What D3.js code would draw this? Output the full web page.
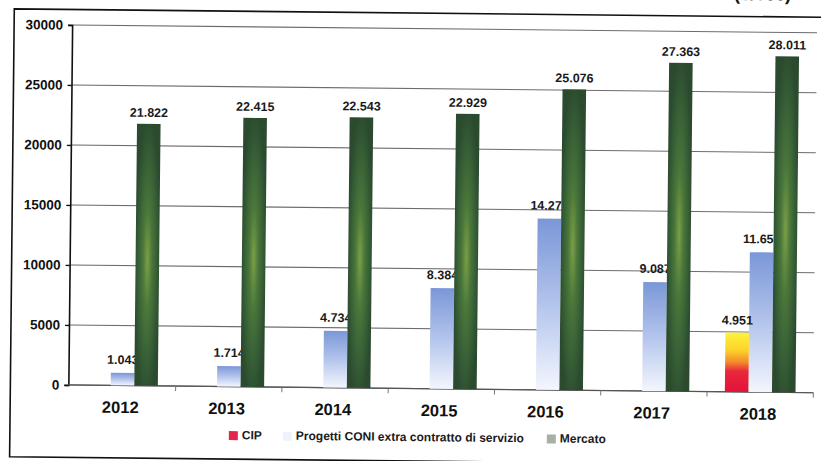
<!DOCTYPE html>
<html>
<head>
<meta charset="utf-8">
<script src="https://cdn.jsdelivr.net/npm/d3@7"></script>
<style>
  html, body { margin: 0; padding: 0; background: #fff; }
  svg { display: block; }
  text { font-family: "Liberation Sans", Arial, sans-serif; }
</style>
</head>
<body>
<svg id="chart" width="821" height="461"></svg>
<script>
// ---- data ----
const years = ["2012", "2013", "2014", "2015", "2016", "2017", "2018"];
const seriesNames = ["CIP", "Progetti CONI extra contratto di servizio", "Mercato"];
const cipValues = [null, null, null, null, null, null, 4951];
const progettiValues = [1043, 1714, 4734, 8384, 14271, 9087, 11659];
const mercatoValues = [21822, 22415, 22543, 22929, 25076, 27363, 28011];
const yTicks = [0, 5000, 10000, 15000, 20000, 25000, 30000];
const unitLabel = "(€/000)";

// ---- setup ----
const svg = d3.select("#chart");
const defs = svg.append("defs");

// gradients
const gGreen = defs.append("radialGradient").attr("id", "gGreen")
  .attr("cx", 0.5).attr("cy", 0.52).attr("r", 0.55);
gGreen.append("stop").attr("offset", 0).attr("stop-color", "#7c9f46");
gGreen.append("stop").attr("offset", 0.35).attr("stop-color", "#4a773a");
gGreen.append("stop").attr("offset", 0.8).attr("stop-color", "#325834");
gGreen.append("stop").attr("offset", 1).attr("stop-color", "#2b4a2e");

const gBlue = defs.append("linearGradient").attr("id", "gBlue")
  .attr("x1", 0).attr("y1", 0).attr("x2", 0).attr("y2", 1);
gBlue.append("stop").attr("offset", 0).attr("stop-color", "#7b97d8");
gBlue.append("stop").attr("offset", 0.5).attr("stop-color", "#b3c4ec");
gBlue.append("stop").attr("offset", 1).attr("stop-color", "#f3f6fd");

const gCip = defs.append("linearGradient").attr("id", "gCip")
  .attr("x1", 0).attr("y1", 0).attr("x2", 0).attr("y2", 1);
gCip.append("stop").attr("offset", 0).attr("stop-color", "#fff23c");
gCip.append("stop").attr("offset", 0.3).attr("stop-color", "#fcd22a");
gCip.append("stop").attr("offset", 0.5).attr("stop-color", "#f38a2a");
gCip.append("stop").attr("offset", 0.65).attr("stop-color", "#e8283c");
gCip.append("stop").attr("offset", 1).attr("stop-color", "#e3123a");

// whole scanned page is slightly rotated
const root = svg.append("g").attr("transform", "rotate(0.6, 410, 230)");

// outer frame (right side off-page)
root.append("path")
  .attr("d", `M840,13 H12 V461 H840`)
  .attr("fill", "none").attr("stroke", "#111").attr("stroke-width", 1.6);

// partially visible unit label at the top (cut by the page edge as in the scan)
root.append("text").attr("x", 760).attr("y", -3.5)
  .attr("text-anchor", "middle").attr("font-weight", "bold").attr("font-size", 18)
  .attr("fill", "#111").text(unitLabel);

const x0 = d3.scaleBand().domain(years).range([71, 815]).paddingInner(0.335).paddingOuter(0.1675);
const x1 = d3.scaleBand().domain(seriesNames).range([0, x0.bandwidth()]);
const y = d3.scaleLinear().domain([0, 30000]).range([388.5, 28.5]);

const itFmt = d3.formatLocale({ decimal: ",", thousands: ".", grouping: [3], currency: ["€", ""] }).format(",d");

// gridlines
root.append("g").selectAll("line").data(yTicks).join("line")
  .attr("x1", 70).attr("x2", 815)
  .attr("y1", d => y(d)).attr("y2", d => y(d))
  .attr("stroke", "#6e6a72").attr("stroke-width", 1.1);

// y axis
const yAxis = root.append("g").attr("transform", "translate(70,0)")
  .call(d3.axisLeft(y).tickValues(yTicks).tickFormat(d3.format("d")).tickSize(4).tickPadding(5));
yAxis.select(".domain").attr("stroke", "#111").attr("stroke-width", 1.6);
yAxis.selectAll(".tick line").attr("stroke", "#111").attr("stroke-width", 1.4);
yAxis.selectAll(".tick text")
  .attr("font-family", "Liberation Sans, Arial, sans-serif")
  .attr("font-size", 13.5).attr("font-weight", "bold").attr("fill", "#111");

// x axis line with ticks at band boundaries
const bounds = years.map(d => x0(d) - x0.step() * x0.paddingInner() / 2);
bounds.push(x0(years[years.length - 1]) + x0.bandwidth() + x0.step() * x0.paddingInner() / 2);
root.append("line").attr("x1", 70).attr("x2", 815).attr("y1", y(0)).attr("y2", y(0))
  .attr("stroke", "#555").attr("stroke-width", 1.2);
root.append("g").selectAll("line").data(bounds.slice(1)).join("line")
  .attr("x1", d => d).attr("x2", d => d)
  .attr("y1", y(0)).attr("y2", y(0) + 5)
  .attr("stroke", "#777").attr("stroke-width", 1);

// year labels
root.append("g").selectAll("text").data(years).join("text")
  .attr("x", d => x0(d) + x0.bandwidth() / 2 - 2)
  .attr("y", 416)
  .attr("text-anchor", "middle").attr("font-weight", "bold").attr("font-size", 16.5)
  .attr("fill", "#111").text(d => d);

function barData(values, name) {
  return years.map((yr, i) => ({ yr, v: values[i], name })).filter(d => d.v != null);
}
const labelStyle = sel => sel
  .attr("text-anchor", "middle").attr("font-weight", "bold").attr("font-size", 12.5)
  .attr("fill", "#1a1a1a");

// Progetti bars + labels (labels partly hidden by the Mercato bars)
const prog = barData(progettiValues, seriesNames[1]);
root.append("g").selectAll("rect").data(prog).join("rect")
  .attr("x", d => x0(d.yr) + x1(d.name)).attr("width", x1.bandwidth())
  .attr("y", d => y(d.v)).attr("height", d => y(0) - y(d.v))
  .attr("fill", "url(#gBlue)");
root.append("g").selectAll("text").data(prog).join("text")
  .attr("x", d => x0(d.yr) + x1(d.name) + x1.bandwidth() / 2)
  .attr("y", d => y(d.v) - 9).call(labelStyle).text(d => itFmt(d.v));

// CIP bars + labels
const cip = barData(cipValues, seriesNames[0]);
root.append("g").selectAll("rect").data(cip).join("rect")
  .attr("x", d => x0(d.yr) + x1(d.name)).attr("width", x1.bandwidth())
  .attr("y", d => y(d.v)).attr("height", d => y(0) - y(d.v))
  .attr("fill", "url(#gCip)");
root.append("g").selectAll("text").data(cip).join("text")
  .attr("x", d => x0(d.yr) + x1(d.name) + x1.bandwidth() / 2)
  .attr("y", d => y(d.v) - 8).call(labelStyle).text(d => itFmt(d.v));

// Mercato bars + labels
const merc = barData(mercatoValues, seriesNames[2]);
root.append("g").selectAll("rect").data(merc).join("rect")
  .attr("x", d => x0(d.yr) + x1(d.name)).attr("width", x1.bandwidth())
  .attr("y", d => y(d.v)).attr("height", d => y(0) - y(d.v))
  .attr("fill", "url(#gGreen)");
root.append("g").selectAll("text").data(merc).join("text")
  .attr("x", d => x0(d.yr) + x1(d.name) + x1.bandwidth() / 2)
  .attr("y", d => y(d.v) - 7).call(labelStyle).text(d => itFmt(d.v));

// legend
const legendX = [231, 285, 549];
const swatchFill = ["#e2284a", "#eef2fb", "#a8b0a6"];
const lg = root.append("g").attr("transform", "translate(0,441)");
seriesNames.forEach((name, i) => {
  lg.append("rect").attr("x", legendX[i]).attr("y", -8).attr("width", 9).attr("height", 9)
    .attr("fill", swatchFill[i]);
  lg.append("text").attr("x", legendX[i] + 13).attr("y", 0)
    .attr("font-size", 12).attr("font-weight", "bold").attr("fill", "#1a1a1a")
    .text(name);
});
</script>
</body>
</html>
